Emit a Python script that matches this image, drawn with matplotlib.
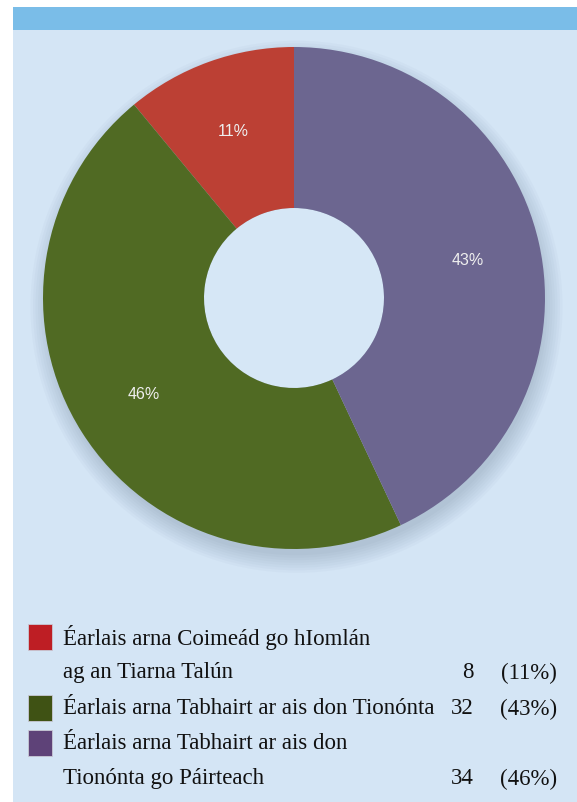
import numpy as np
import matplotlib
matplotlib.use("Agg")
import matplotlib.pyplot as plt
import matplotlib.patches as mpatches

# Data
pieValues = [11, 46, 43]
pieLabels = ["11%", "46%", "43%"]
pieColors = ["#BC4034", "#506A23", "#6C6690"]

legendLines = [
    ["Éarlais arna Coimeád go hIomlán", "ag an Tiarna Talún"],
    ["Éarlais arna Tabhairt ar ais don Tionónta"],
    ["Éarlais arna Tabhairt ar ais don", "Tionónta go Páirteach"],
]
legendCounts = ["8", "32", "34"]
legendPercents = ["(11%)", "(43%)", "(46%)"]
legendColors = ["#BE1E24", "#3F5214", "#5E4278"]

W, H = 577, 803
panelColor = "#D4E5F5"
stripColor = "#7ABDE8"

def fx(px):
    return px / W

def fy(py):
    return 1 - py / H

fig = plt.figure(figsize=(W / 100, H / 100), dpi=100)
fig.patch.set_facecolor("white")

# Background panel and top strip
fig.patches.append(mpatches.Rectangle((fx(13), 0), 1 - fx(13), fy(31), transform=fig.transFigure,
                                      facecolor=panelColor, edgecolor="none", zorder=-2))
fig.patches.append(mpatches.Rectangle((fx(13), fy(31)), 1 - fx(13), fy(8) - fy(31), transform=fig.transFigure,
                                      facecolor=stripColor, edgecolor="none", zorder=-2))

# Donut
cx, cy, r = 294, 299, 251
ax = fig.add_axes([fx(cx - r), fy(cy + r), 2 * r / W, 2 * r / H])
ax.set_facecolor("none")
ax.axis("off")

# soft shadow, mostly below the ring
for k in range(8):
    ax.add_patch(mpatches.Circle((0.01, -0.035), 0.99 + k * 0.01, facecolor="#4a5f78",
                                 edgecolor="none", alpha=0.03, zorder=0, clip_on=False))

wedges, texts = ax.pie(pieValues, colors=pieColors, startangle=90, counterclock=True,
                       radius=1, wedgeprops=dict(width=1 - 90 / 251, edgecolor="none", linewidth=0),
                       labels=pieLabels, labeldistance=0.71,
                       textprops=dict(color="#EEEEEE", fontsize=11.5, family="Liberation Sans",
                                      ha="center", va="center"))
for w in wedges:
    w.set_zorder(2)
for t in texts:
    t.set_zorder(3)
ax.add_patch(mpatches.Circle((0, 0), 90 / 251, facecolor="#D6E7F6", edgecolor="none", zorder=1))
ax.set_xlim(-1, 1)
ax.set_ylim(-1, 1)

# Legend
lineY = [638, 673, 709, 744, 779]
fontKw = dict(family="Liberation Serif", fontsize=16.5, color="#111111", va="center")
row = 0
for i, lines in enumerate(legendLines):
    top = lineY[row]
    fig.patches.append(mpatches.Rectangle((fx(28), fy(top + 13)), fx(24), fy(top - 13) - fy(top + 13),
                                          transform=fig.transFigure, facecolor=legendColors[i],
                                          edgecolor="#c9c9d6", linewidth=0.6, zorder=2))
    for line in lines:
        fig.text(fx(63), fy(lineY[row]), line, ha="left", **fontKw)
        row += 1
    yLast = lineY[row - 1]
    fig.text(fx(474), fy(yLast), legendCounts[i], ha="right", **fontKw)
    fig.text(fx(557), fy(yLast), legendPercents[i], ha="right", **fontKw)

fig.savefig("out.png", dpi=100)
